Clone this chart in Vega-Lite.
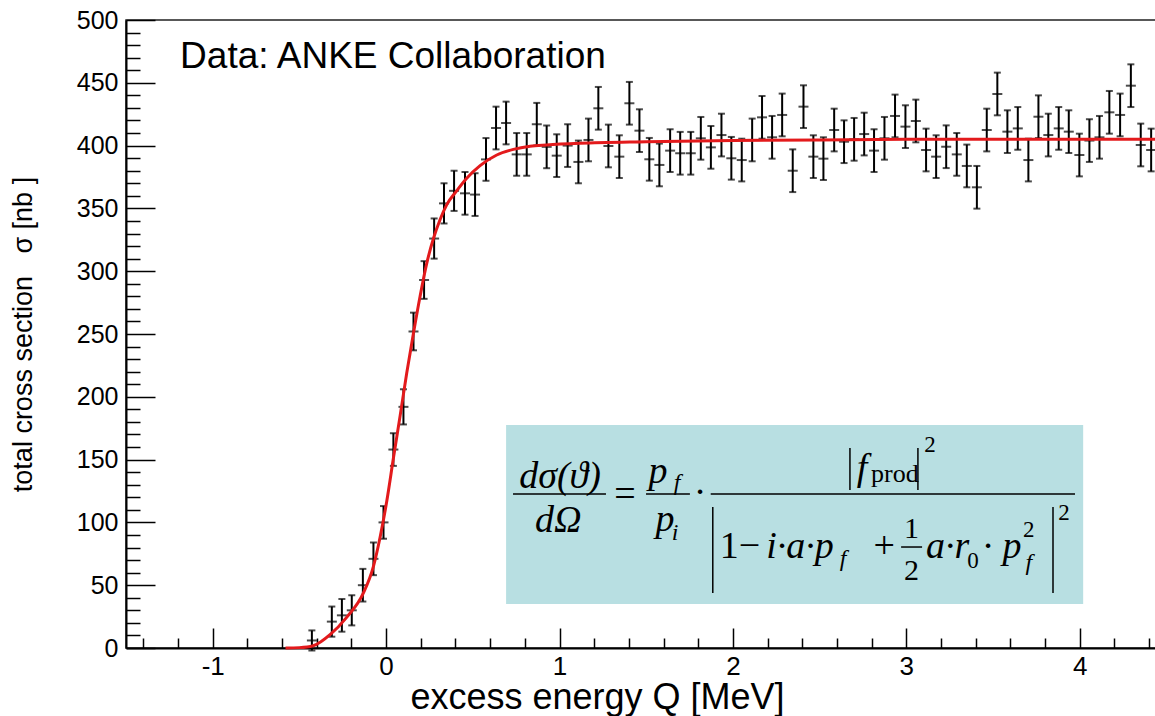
{
  "$schema": "https://vega.github.io/schema/vega-lite/v6.json",
  "autosize": {"type": "none"},
  "padding": {"left": 126, "top": 20, "right": 0, "bottom": 68},
  "width": 1030,
  "height": 628,
  "background": "white",
  "config": {"view": {"stroke": "#222", "strokeWidth": 1.5}, "font": "Liberation Sans"},
  "datasets": {
    "points": [
      {"q": -0.428, "s": 6, "e": 8},
      {"q": -0.313, "s": 21, "e": 12},
      {"q": -0.255, "s": 26, "e": 13},
      {"q": -0.198, "s": 30, "e": 12},
      {"q": -0.134, "s": 50, "e": 13},
      {"q": -0.073, "s": 71, "e": 13},
      {"q": -0.015, "s": 100, "e": 13},
      {"q": 0.042, "s": 158, "e": 13},
      {"q": 0.100, "s": 192, "e": 14},
      {"q": 0.158, "s": 252, "e": 15},
      {"q": 0.219, "s": 293, "e": 15},
      {"q": 0.277, "s": 326, "e": 16},
      {"q": 0.334, "s": 354, "e": 16},
      {"q": 0.392, "s": 364, "e": 16},
      {"q": 0.455, "s": 362, "e": 17},
      {"q": 0.513, "s": 361, "e": 17},
      {"q": 0.576, "s": 389, "e": 17},
      {"q": 0.634, "s": 414, "e": 17},
      {"q": 0.692, "s": 418, "e": 17},
      {"q": 0.753, "s": 393, "e": 17},
      {"q": 0.811, "s": 393, "e": 17},
      {"q": 0.869, "s": 417, "e": 17},
      {"q": 0.926, "s": 399, "e": 17},
      {"q": 0.984, "s": 392, "e": 17},
      {"q": 1.047, "s": 400, "e": 17},
      {"q": 1.109, "s": 387, "e": 17},
      {"q": 1.167, "s": 404.5, "e": 17},
      {"q": 1.224, "s": 429.7, "e": 17},
      {"q": 1.282, "s": 399.7, "e": 17},
      {"q": 1.345, "s": 391.2, "e": 17},
      {"q": 1.403, "s": 433.7, "e": 17},
      {"q": 1.461, "s": 411.9, "e": 17},
      {"q": 1.518, "s": 389.1, "e": 17},
      {"q": 1.576, "s": 384.6, "e": 17},
      {"q": 1.638, "s": 396, "e": 17},
      {"q": 1.696, "s": 393.9, "e": 17},
      {"q": 1.757, "s": 393.9, "e": 17},
      {"q": 1.815, "s": 405.8, "e": 17},
      {"q": 1.873, "s": 398.6, "e": 17},
      {"q": 1.934, "s": 408.4, "e": 17},
      {"q": 1.991, "s": 389.9, "e": 17},
      {"q": 2.051, "s": 388.5, "e": 17},
      {"q": 2.111, "s": 404.5, "e": 17},
      {"q": 2.168, "s": 422.5, "e": 17},
      {"q": 2.226, "s": 406.6, "e": 17},
      {"q": 2.284, "s": 424.4, "e": 17},
      {"q": 2.345, "s": 380, "e": 17},
      {"q": 2.407, "s": 431, "e": 17},
      {"q": 2.464, "s": 391.2, "e": 17},
      {"q": 2.522, "s": 389.6, "e": 17},
      {"q": 2.584, "s": 412.4, "e": 17},
      {"q": 2.641, "s": 403.1, "e": 17},
      {"q": 2.699, "s": 405, "e": 17},
      {"q": 2.757, "s": 409.2, "e": 17},
      {"q": 2.814, "s": 396, "e": 17},
      {"q": 2.874, "s": 405.8, "e": 17},
      {"q": 2.935, "s": 423.6, "e": 17},
      {"q": 2.995, "s": 415.1, "e": 17},
      {"q": 3.055, "s": 419.6, "e": 17},
      {"q": 3.114, "s": 396.5, "e": 17},
      {"q": 3.172, "s": 391.2, "e": 17},
      {"q": 3.230, "s": 399.1, "e": 17},
      {"q": 3.291, "s": 393, "e": 17},
      {"q": 3.349, "s": 383.8, "e": 17},
      {"q": 3.407, "s": 366.8, "e": 17},
      {"q": 3.464, "s": 412.4, "e": 17},
      {"q": 3.525, "s": 441.1, "e": 17},
      {"q": 3.583, "s": 411.1, "e": 17},
      {"q": 3.643, "s": 413.7, "e": 17},
      {"q": 3.704, "s": 388.5, "e": 17},
      {"q": 3.762, "s": 423, "e": 17},
      {"q": 3.819, "s": 408.4, "e": 17},
      {"q": 3.879, "s": 413.7, "e": 17},
      {"q": 3.937, "s": 411.1, "e": 17},
      {"q": 3.998, "s": 392.5, "e": 17},
      {"q": 4.056, "s": 404, "e": 17},
      {"q": 4.114, "s": 406.6, "e": 17},
      {"q": 4.171, "s": 426.5, "e": 17},
      {"q": 4.233, "s": 424.4, "e": 17},
      {"q": 4.295, "s": 447.7, "e": 17},
      {"q": 4.352, "s": 400.5, "e": 17},
      {"q": 4.412, "s": 396.5, "e": 17}
    ],
    "fit": [
      {"q": -0.58, "s": 0}, {"q": -0.5, "s": 0.3}, {"q": -0.42, "s": 1.8}, {"q": -0.32, "s": 11},
      {"q": -0.23, "s": 24}, {"q": -0.13, "s": 44}, {"q": -0.073, "s": 65}, {"q": -0.035, "s": 88},
      {"q": 0.004, "s": 117}, {"q": 0.042, "s": 151}, {"q": 0.081, "s": 185}, {"q": 0.119, "s": 219},
      {"q": 0.157, "s": 250}, {"q": 0.196, "s": 280}, {"q": 0.234, "s": 306}, {"q": 0.273, "s": 326},
      {"q": 0.311, "s": 341}, {"q": 0.35, "s": 353}, {"q": 0.407, "s": 364}, {"q": 0.465, "s": 374},
      {"q": 0.542, "s": 384}, {"q": 0.638, "s": 392.5}, {"q": 0.734, "s": 397}, {"q": 0.83, "s": 399.5},
      {"q": 0.926, "s": 400.5}, {"q": 1.118, "s": 401.8}, {"q": 1.5, "s": 403}, {"q": 2.0, "s": 404},
      {"q": 2.5, "s": 404.5}, {"q": 3.0, "s": 405}, {"q": 3.5, "s": 405}, {"q": 4.0, "s": 405}, {"q": 4.44, "s": 405}
    ],
    "box": [{"q": 0.692, "q2": 4.02, "s": 35, "s2": 177.5}],
    "lines": [
      {"q": 0.732, "q2": 1.268, "s": 122.6, "s2": 122.6},
      {"q": 1.499, "q2": 1.752, "s": 122.6, "s2": 122.6},
      {"q": 1.872, "q2": 3.973, "s": 122.6, "s2": 122.6},
      {"q": 2.970, "q2": 3.091, "s": 80.4, "s2": 80.4},
      {"q": 2.675, "q2": 2.675, "s": 159.2, "s2": 125.8},
      {"q": 3.067, "q2": 3.067, "s": 159.2, "s2": 125.8},
      {"q": 1.884, "q2": 1.884, "s": 112.3, "s2": 43.8},
      {"q": 3.846, "q2": 3.846, "s": 112.3, "s2": 43.8}
    ],
    "it38": [
      {"q": 1.003, "s": 127.4, "t": "dσ(ϑ)"},
      {"q": 0.992, "s": 92.4, "t": "dΩ"},
      {"q": 1.568, "s": 131.4, "t": "p"},
      {"q": 1.609, "s": 93.2, "t": "p"},
      {"q": 2.744, "s": 133.8, "t": "f"},
      {"q": 2.387, "s": 71.7, "t": "i·a·p"},
      {"q": 3.238, "s": 71.7, "t": "a·r"},
      {"q": 3.610, "s": 71.7, "t": "p"}
    ],
    "up38": [
      {"q": 1.378, "s": 113.1, "t": "="},
      {"q": 1.811, "s": 114.6, "t": "·"},
      {"q": 2.041, "s": 71.7, "t": "1−"},
      {"q": 2.873, "s": 71.7, "t": "+"},
      {"q": 3.471, "s": 71.7, "t": "·"}
    ],
    "up30": [
      {"q": 3.030, "s": 87.6, "t": "1"},
      {"q": 3.030, "s": 54.1, "t": "2"}
    ],
    "it24": [
      {"q": 1.678, "s": 125.8, "t": "f"},
      {"q": 1.666, "s": 86.0, "t": "i"},
      {"q": 2.635, "s": 65.3, "t": "f"},
      {"q": 3.706, "s": 62.1, "t": "f"}
    ],
    "up24": [
      {"q": 3.385, "s": 63.7, "t": "0"},
      {"q": 3.706, "s": 88.4, "t": "2"},
      {"q": 3.91, "s": 101.9, "t": "2"},
      {"q": 3.137, "s": 156.1, "t": "2"}
    ],
    "prod": [{"q": 2.797, "s": 132.2, "t": "prod"}],
    "label": [{"q": -1.188, "s": 461.8, "t": "Data: ANKE Collaboration"}]
  },
  "encoding": {
    "x": {
      "field": "q", "type": "quantitative",
      "scale": {"domain": [-1.5, 4.44], "nice": false, "zero": false},
      "axis": {
        "title": "excess energy Q [MeV]",
        "titleFont": "Liberation Sans", "titleFontSize": 36, "titleFontWeight": "normal", "titleColor": "black",
        "titleX": 471, "titleY": 60, "titleAlign": "center", "titleBaseline": "alphabetic", "titleAnchor": null,
        "values": [-1.4, -1.2, -1, -0.8, -0.6, -0.4, -0.2, 0, 0.2, 0.4, 0.6, 0.8, 1, 1.2, 1.4, 1.6, 1.8, 2, 2.2, 2.4, 2.6, 2.8, 3, 3.2, 3.4, 3.6, 3.8, 4, 4.2, 4.4],
        "labelExpr": "abs(datum.value - round(datum.value)) < 0.001 ? '' + round(datum.value) : ''",
        "tickSize": {"condition": {"test": "abs(datum.value - round(datum.value)) < 0.001", "value": -20}, "value": -10},
        "labelPadding": 38,
        "labelBaseline": "middle",
        "labelFont": "Liberation Sans", "labelFontSize": 26, "labelColor": "black",
        "labelFlush": false, "labelOverlap": false,
        "tickColor": "black", "tickWidth": 1.5,
        "domainColor": "black", "domainWidth": 2,
        "grid": false
      }
    },
    "y": {
      "field": "s", "type": "quantitative",
      "scale": {"domain": [0, 500], "nice": false},
      "axis": {
        "title": "total cross section\u00a0\u00a0\u00a0σ [nb ]",
        "titleFont": "Liberation Sans", "titleFontSize": 27, "titleFontWeight": "normal", "titleColor": "black",
        "titleX": -103, "titleY": 314, "titleAngle": -90, "titleAlign": "center", "titleBaseline": "middle", "titleAnchor": null,
        "values": [0, 10, 20, 30, 40, 50, 60, 70, 80, 90, 100, 110, 120, 130, 140, 150, 160, 170, 180, 190, 200, 210, 220, 230, 240, 250, 260, 270, 280, 290, 300, 310, 320, 330, 340, 350, 360, 370, 380, 390, 400, 410, 420, 430, 440, 450, 460, 470, 480, 490, 500],
        "labelExpr": "datum.value % 50 === 0 ? '' + datum.value : ''",
        "tickSize": {"condition": {"test": "datum.value % 50 === 0", "value": -29}, "value": -14},
        "labelPadding": 37,
        "labelBaseline": "middle",
        "labelFont": "Liberation Sans", "labelFontSize": 25, "labelColor": "black",
        "labelFlush": false, "labelOverlap": false,
        "tickColor": "black", "tickWidth": 1.5,
        "domainColor": "black", "domainWidth": 2,
        "grid": false
      }
    }
  },
  "layer": [
    {
      "data": {"name": "box"},
      "mark": {"type": "rect", "color": "#b8dfe2"},
      "encoding": {"x2": {"field": "q2"}, "y2": {"field": "s2"}}
    },
    {
      "data": {"name": "lines"},
      "mark": {"type": "rule", "color": "black", "strokeWidth": 1.5},
      "encoding": {"x2": {"field": "q2"}, "y2": {"field": "s2"}}
    },
    {
      "data": {"name": "it38"},
      "mark": {"type": "text", "font": "Liberation Serif", "fontStyle": "italic", "fontSize": 38, "align": "center", "baseline": "alphabetic", "color": "black"},
      "encoding": {"text": {"field": "t"}}
    },
    {
      "data": {"name": "up38"},
      "mark": {"type": "text", "font": "Liberation Serif", "fontSize": 38, "align": "center", "baseline": "alphabetic", "color": "black"},
      "encoding": {"text": {"field": "t"}}
    },
    {
      "data": {"name": "up30"},
      "mark": {"type": "text", "font": "Liberation Serif", "fontSize": 30, "align": "center", "baseline": "alphabetic", "color": "black"},
      "encoding": {"text": {"field": "t"}}
    },
    {
      "data": {"name": "it24"},
      "mark": {"type": "text", "font": "Liberation Serif", "fontStyle": "italic", "fontSize": 24, "align": "center", "baseline": "alphabetic", "color": "black"},
      "encoding": {"text": {"field": "t"}}
    },
    {
      "data": {"name": "up24"},
      "mark": {"type": "text", "font": "Liberation Serif", "fontSize": 23, "align": "center", "baseline": "alphabetic", "color": "black"},
      "encoding": {"text": {"field": "t"}}
    },
    {
      "data": {"name": "prod"},
      "mark": {"type": "text", "font": "Liberation Serif", "fontSize": 26, "align": "left", "baseline": "alphabetic", "color": "black"},
      "encoding": {"text": {"field": "t"}}
    },
    {
      "data": {"name": "label"},
      "mark": {"type": "text", "font": "Liberation Sans", "fontSize": 37, "align": "left", "baseline": "alphabetic", "color": "black"},
      "encoding": {"text": {"field": "t"}}
    },
    {
      "data": {"name": "points"},
      "mark": {"type": "errorbar", "ticks": {"size": 7}, "thickness": 2, "color": "black"},
      "encoding": {"yError": {"field": "e"}}
    },
    {
      "data": {"name": "points"},
      "mark": {"type": "tick", "orient": "horizontal", "size": 10, "thickness": 2, "color": "black"}
    },
    {
      "data": {"name": "fit"},
      "mark": {"type": "line", "color": "#e31a1c", "strokeWidth": 3, "interpolate": "monotone"}
    }
  ]
}
